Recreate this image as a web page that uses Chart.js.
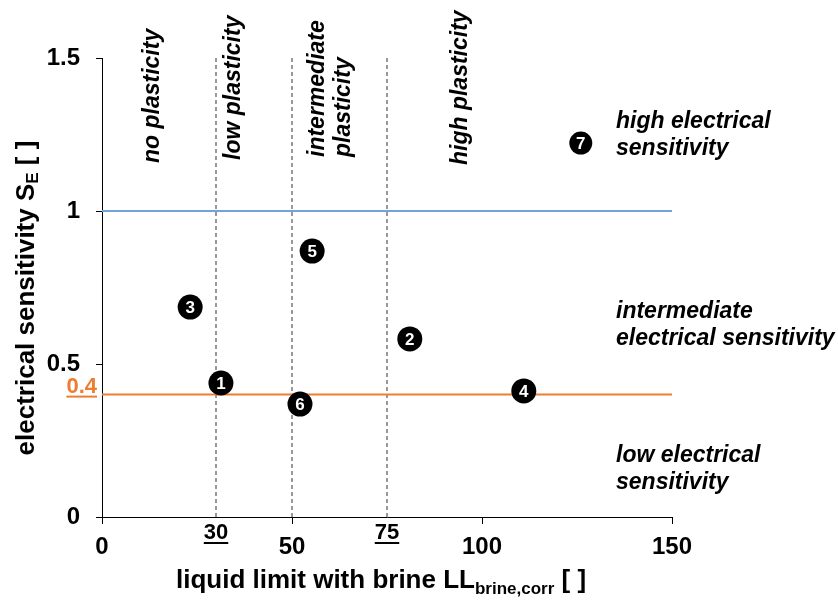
<!DOCTYPE html>
<html>
<head>
<meta charset="utf-8">
<script src="https://cdn.jsdelivr.net/npm/chart.js@4/dist/chart.umd.min.js"></script>
<style>
  html, body { margin: 0; padding: 0; background: #fff; }
  canvas { display: block; }
</style>
</head>
<body>
<canvas id="chart-canvas" width="838" height="605" style="width:838px;height:605px"></canvas>
<script>
// samples: liquid limit vs electrical sensitivity
const sampleIds = ["1", "2", "3", "4", "5", "6", "7"];
const liquidLimit = [31.3, 81, 23.2, 111, 55.3, 52.1, 126];
const sensitivity = [0.438, 0.582, 0.686, 0.412, 0.869, 0.369, 1.222];

// plasticity class borders (x) and sensitivity class borders (y)
const plasticityBorders = [30, 50, 75];
const highSensitivity = 1;
const lowSensitivity = 0.4;

const xTicks = [0, 50, 100, 150];
const yTicks = [0, 0.5, 1, 1.5];
const xRange = [0, 150];
const yRange = [0, 1.5];

const FONT = "'Liberation Sans', Arial, sans-serif";

const datasets = [
  {
    type: 'scatter',
    label: 'samples',
    data: liquidLimit.map((x, i) => ({x: x, y: sensitivity[i]})),
    backgroundColor: '#000',
    borderColor: '#000',
    borderWidth: 0,
    pointRadius: ctx => ctx.dataIndex === 6 ? 11.5 : 12.5,
    order: 0
  },
  {
    type: 'line',
    label: 'high',
    data: [{x: xRange[0], y: highSensitivity}, {x: xRange[1], y: highSensitivity}],
    borderColor: '#6fa6d8',
    borderWidth: 2,
    pointRadius: 0,
    order: 1
  },
  {
    type: 'line',
    label: 'low',
    data: [{x: xRange[0], y: lowSensitivity}, {x: xRange[1], y: lowSensitivity}],
    borderColor: '#ed7d31',
    borderWidth: 2,
    pointRadius: 0,
    order: 1
  }
];

plasticityBorders.forEach(b => {
  datasets.push({
    type: 'line',
    label: 'LL ' + b,
    data: [{x: b, y: yRange[0]}, {x: b, y: yRange[1]}],
    borderColor: '#555',
    borderWidth: 1.2,
    borderDash: [4, 3],
    pointRadius: 0,
    order: 2
  });
});

// text with a subscript part, drawn from the current origin
const drawSubText = (ctx, parts, size, subSize, subDrop) => {
  let x = 0;
  parts.forEach(p => {
    ctx.font = `bold ${p.sub ? subSize : size}px ${FONT}`;
    ctx.fillText(p.t, x, p.sub ? subDrop : 0);
    x += ctx.measureText(p.t).width;
  });
  return x;
};
const measureSubText = (ctx, parts, size, subSize) => {
  let w = 0;
  parts.forEach(p => {
    ctx.font = `bold ${p.sub ? subSize : size}px ${FONT}`;
    w += ctx.measureText(p.t).width;
  });
  return w;
};

const underlined = (ctx, text, x, y, align, color) => {
  ctx.font = `bold 22px ${FONT}`;
  ctx.fillStyle = color;
  ctx.textAlign = align;
  ctx.textBaseline = 'alphabetic';
  ctx.fillText(text, x, y);
  const w = ctx.measureText(text).width;
  const x0 = align === 'center' ? x - w / 2 : (align === 'right' ? x - w : x);
  ctx.fillRect(x0, y + 3, w, 2);
};

const labelsPlugin = {
  id: 'labels',
  afterDatasetsDraw(chart) {
    const ctx = chart.ctx;
    const xs = chart.scales.x;
    const ys = chart.scales.y;
    ctx.save();

    // sample numbers inside the dots
    const meta = chart.getDatasetMeta(0);
    ctx.fillStyle = '#fff';
    ctx.textAlign = 'center';
    ctx.textBaseline = 'middle';
    ctx.font = `bold 17px ${FONT}`;
    meta.data.forEach((pt, i) => {
      ctx.fillText(sampleIds[i], pt.x, pt.y + 1);
    });

    // plasticity classes, rotated
    ctx.fillStyle = '#000';
    ctx.font = `italic bold 23px ${FONT}`;
    ctx.textAlign = 'left';
    ctx.textBaseline = 'alphabetic';
    [
      ['no plasticity', 159, 163],
      ['low plasticity', 240, 160],
      ['intermediate', 324, 157],
      ['plasticity', 350, 157],
      ['high plasticity', 467, 165]
    ].forEach(([t, bx, by]) => {
      ctx.save();
      ctx.translate(bx, by);
      ctx.rotate(-Math.PI / 2);
      ctx.fillText(t, 0, 0);
      ctx.restore();
    });

    // sensitivity classes
    [
      ['high electrical', 128],
      ['sensitivity', 155],
      ['intermediate', 318],
      ['electrical sensitivity', 345],
      ['low electrical', 462],
      ['sensitivity', 489]
    ].forEach(([t, by]) => ctx.fillText(t, 616, by));

    // class borders written on the axes
    underlined(ctx, String(plasticityBorders[0]), xs.getPixelForValue(plasticityBorders[0]), 539, 'center', '#000');
    underlined(ctx, String(plasticityBorders[2]), xs.getPixelForValue(plasticityBorders[2]), 539, 'center', '#000');
    underlined(ctx, String(lowSensitivity), 97, ys.getPixelForValue(lowSensitivity) - 2, 'right', '#ed7d31');

    // axis titles with subscripts
    ctx.fillStyle = '#000';
    ctx.textAlign = 'left';
    ctx.textBaseline = 'alphabetic';
    const xTitle = [{t: 'liquid limit with brine LL'}, {t: 'brine,corr', sub: true}, {t: ' [ ]'}];
    const xw = measureSubText(ctx, xTitle, 26, 17);
    ctx.save();
    ctx.translate(381 - xw / 2, 588);
    drawSubText(ctx, xTitle, 26, 17, 6);
    ctx.restore();

    const yTitle = [{t: 'electrical sensitivity S'}, {t: 'E', sub: true}, {t: ' [ ]'}];
    const yw = measureSubText(ctx, yTitle, 26, 17);
    ctx.save();
    ctx.translate(34, 298 + yw / 2);
    ctx.rotate(-Math.PI / 2);
    drawSubText(ctx, yTitle, 26, 17, 4);
    ctx.restore();

    ctx.restore();
  }
};

const chartCanvas = document.querySelector('#chart-canvas');

new Chart(chartCanvas, {
  data: {datasets: datasets},
  options: {
    responsive: false,
    animation: false,
    layout: {padding: {top: 58, right: 166, bottom: 0, left: 0}},
    plugins: {
      legend: {display: false},
      tooltip: {enabled: false}
    },
    scales: {
      x: {
        type: 'linear',
        min: xRange[0],
        max: xRange[1],
        afterBuildTicks: scale => { scale.ticks = xTicks.map(v => ({value: v})); },
        afterFit: scale => { scale.height = 88; },
        grid: {drawOnChartArea: false, drawTicks: true, tickLength: 7, color: '#000'},
        border: {color: '#000', width: 1},
        ticks: {
          color: '#000',
          padding: 9,
          maxRotation: 0,
          font: {family: FONT, size: 24, weight: 'bold'},
          callback: v => String(v)
        }
      },
      y: {
        type: 'linear',
        min: yRange[0],
        max: yRange[1],
        afterBuildTicks: scale => { scale.ticks = yTicks.map(v => ({value: v})); },
        afterFit: scale => { scale.width = 102; },
        grid: {drawOnChartArea: false, drawTicks: true, tickLength: 6, color: '#000'},
        border: {color: '#000', width: 1},
        ticks: {
          color: '#000',
          padding: 16,
          font: {family: FONT, size: 24, weight: 'bold'},
          callback: v => String(v)
        }
      }
    }
  },
  plugins: [labelsPlugin]
});
</script>
</body>
</html>
